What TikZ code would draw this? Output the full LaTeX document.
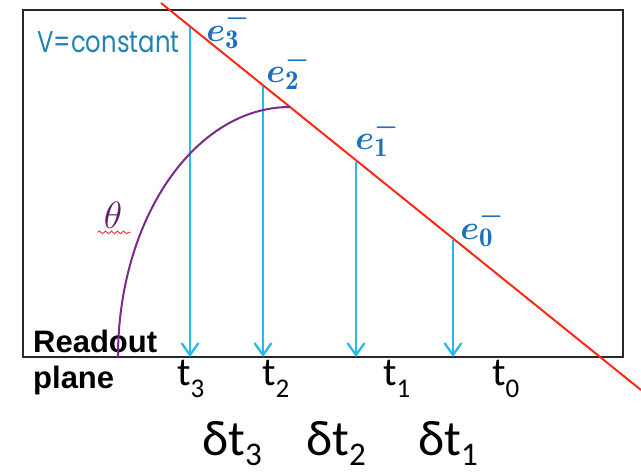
\documentclass[tikz,border=0pt]{standalone}
\usepackage{fix-cm}
\usepackage{fontspec}
\usepackage{bm}
\usetikzlibrary{arrows.meta, decorations.pathmorphing}

\newfontfamily\gothfont{Poppins}
\newfontfamily\calfont{Carlito}
\newfontfamily\arialfont{Liberation Sans}

\definecolor{framegray}{RGB}{40,40,40}
\definecolor{frontred}{RGB}{255,40,20}
\definecolor{arcpurple}{RGB}{125,40,140}
\definecolor{thetapurple}{RGB}{100,25,110}
\definecolor{driftblue}{RGB}{40,185,235}
\definecolor{elabblue}{RGB}{28,112,190}
\definecolor{vtextblue}{RGB}{34,130,178}

% large scripts for the electron labels
\DeclareMathSizes{34}{34}{27}{20}

% lowered subscripts for the time labels
\newcommand\tsub[1]{\raisebox{-12pt}{\fontsize{27}{27}\selectfont #1}}
\newcommand\dsub[1]{\raisebox{-10pt}{\fontsize{33}{33}\selectfont #1}}

\begin{document}
\begin{tikzpicture}[
    x=1pt, y=1pt,
    % drift volume outline
    frame/.style={draw=framegray, line width=2pt},
    % ionisation track
    front/.style={draw=frontred, line width=2pt},
    % angle arc
    anglearc/.style={draw=arcpurple, line width=2pt},
    % drift arrow of one electron
    drift/.style={draw=driftblue, line width=2.3pt,
        -{Straight Barb[length=12pt, width=17pt, line width=2.3pt]}},
    % electron labels
    elab/.style={text=elabblue, inner sep=0pt,
        font=\fontsize{34}{40}\selectfont},
    % arrival times
    tlab/.style={inner sep=0pt, anchor=base west,
        font=\calfont\fontsize{40}{44}\selectfont},
    % time differences
    dlab/.style={inner sep=0pt, anchor=base west,
        font=\calfont\fontsize{50}{54}\selectfont},
    % spell-check wave
    squiggle/.style={draw=red!80, line width=0.9pt,
        decorate, decoration={snake, amplitude=1.4pt, segment length=6pt}},
]
\useasboundingbox (0,0) rectangle (641,476);

% ============================================================
% DRIFT VOLUME
% ============================================================
\draw[frame] (23,119) rectangle (623,466);

\node[font=\gothfont\fontsize{30}{34}\selectfont, text=vtextblue,
      inner sep=0pt, anchor=base west] (vconst) at (37,423)
    {\scalebox{0.81}[1]{V=constant}};

% readout plane label
\node[font=\arialfont\bfseries\fontsize{31}{36}\selectfont, align=left,
      inner sep=0pt, anchor=north west] (readout) at (33,146)
    {Readout\\plane};

% ============================================================
% TRACK AND ELECTRONS
% ============================================================
\coordinate (rtop) at (161,473);
\coordinate (rbot) at (641,86);

% start of each electron on the track
\coordinate (s3) at (190,450);
\coordinate (s2) at (263,390);
\coordinate (s1) at (356,314);
\coordinate (s0) at (453,236);

% arrival on the readout plane
\coordinate (r3) at (190,119);
\coordinate (r2) at (263,119);
\coordinate (r1) at (356,119);
\coordinate (r0) at (453,119);

\draw[drift] (s3) -- (r3);
\draw[drift] (s2) -- (r2);
\draw[drift] (s1) -- (r1);
\draw[drift] (s0) -- (r0);

\draw[front] (rtop) -- (rbot);

% angle of the track
\coordinate (arcstart) at (118,119);
\draw[anglearc] (arcstart) arc[start angle=180, end angle=90,
    x radius=172, y radius=250];

\node[text=thetapurple, inner sep=0pt,
      font=\fontsize{38}{42}\selectfont] (theta) at (113,261) {$\theta$};
\draw[squiggle] ([xshift=-6pt, yshift=-4pt]theta.south west)
    -- ([xshift=8pt, yshift=-4pt]theta.south east);

% electron labels
\node[elab] (e3) at (228,447) {$\bm{e}^{\bm{-}}_{\mathbf{3}}$};
\node[elab] (e2) at (288,406) {$\bm{e}^{\bm{-}}_{\mathbf{2}}$};
\node[elab] (e1) at (377,339) {$\bm{e}^{\bm{-}}_{\mathbf{1}}$};
\node[elab] (e0) at (482,249) {$\bm{e}^{\bm{-}}_{\mathbf{0}}$};

% ============================================================
% TIMES BELOW THE PLANE
% ============================================================
\node[tlab] (t3) at (177,90) {t\tsub{3}};
\node[tlab] (t2) at (262,90) {t\tsub{2}};
\node[tlab] (t1) at (383,90) {t\tsub{1}};
\node[tlab] (t0) at (492,90) {t\tsub{0}};

\node[dlab] (dt3) at (202,20) {δt\dsub{3}};
\node[dlab] (dt2) at (306,20) {δt\dsub{2}};
\node[dlab] (dt1) at (418,20) {δt\dsub{1}};

\end{tikzpicture}
\end{document}
